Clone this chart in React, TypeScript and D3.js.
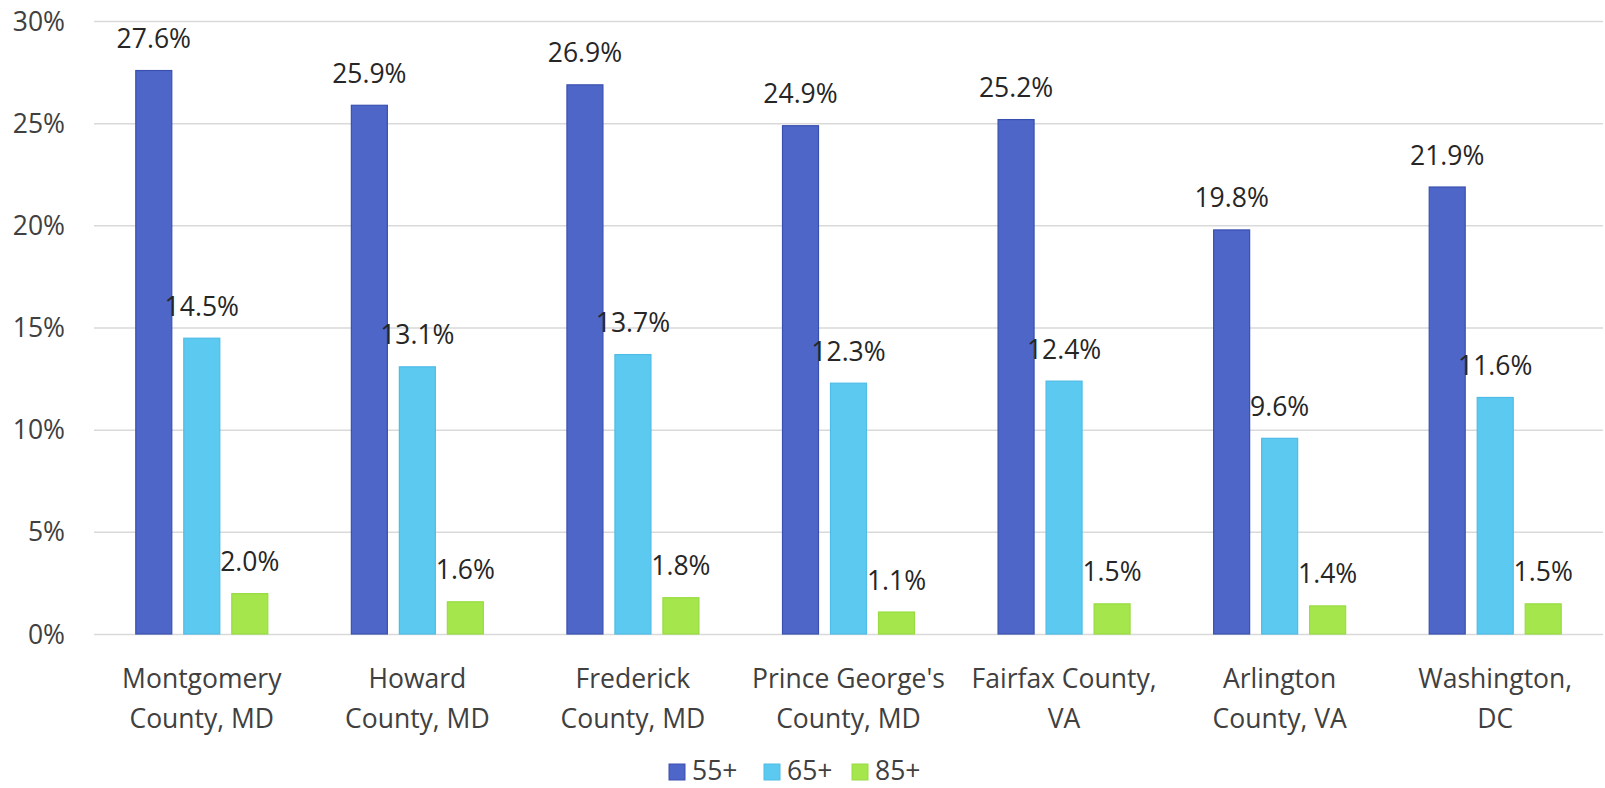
import React, { useEffect, useRef } from "react";
import * as d3 from "d3";

const categories = [
  ["Montgomery", "County, MD"],
  ["Howard", "County, MD"],
  ["Frederick", "County, MD"],
  ["Prince George's", "County, MD"],
  ["Fairfax County,", "VA"],
  ["Arlington", "County, VA"],
  ["Washington,", "DC"],
];
const seriesNames = ["55+", "65+", "85+"];
const age55 = [27.6, 25.9, 26.9, 24.9, 25.2, 19.8, 21.9];
const age65 = [14.5, 13.1, 13.7, 12.3, 12.4, 9.6, 11.6];
const age85 = [2.0, 1.6, 1.8, 1.1, 1.5, 1.4, 1.5];
const yTicks = [0, 5, 10, 15, 20, 25, 30];

const fills = ["#4e66c8", "#5bc9f0", "#a4e64c"];
const strokes = ["#3a50b0", "#4fbce6", "#98dc42"];

const W = 1605;
const H = 788;
const FONT = "'Open Sans', sans-serif";
const FS = "26.5px";

export default function App() {
  const ref = useRef<SVGSVGElement>(null);

  useEffect(() => {
    const svg = d3.select(ref.current);
    svg.selectAll("*").remove();

    const left = 94,
      right = 1603,
      top = 21,
      bottom = 634;

    const x = d3
      .scaleBand<number>()
      .domain(d3.range(categories.length))
      .range([left, right]);
    const y = d3.scaleLinear().domain([0, 30]).range([bottom, top]);

    const bw = 37,
      step = 48;

    // gridlines
    svg
      .append("g")
      .selectAll("line")
      .data(yTicks)
      .join("line")
      .attr("x1", left)
      .attr("x2", right)
      .attr("y1", (d) => y(d) + 0.5)
      .attr("y2", (d) => y(d) + 0.5)
      .attr("stroke", "#d9d9d9")
      .attr("stroke-width", 1.5);

    svg
      .append("g")
      .selectAll("text")
      .data(yTicks)
      .join("text")
      .attr("x", 65)
      .attr("y", (d) => y(d))
      .attr("dy", "0.36em")
      .attr("text-anchor", "end")
      .attr("fill", "#404040")
      .style("font-family", FONT)
      .style("font-size", FS)
      .text((d) => d + "%");

    const series = [age55, age65, age85];
    series.forEach((vals, si) => {
      const g = svg.append("g");
      const bx = (i: number) =>
        x(i)! + x.bandwidth() / 2 - 1.5 * bw - (step - bw) + si * step;
      g.selectAll("rect")
        .data(vals)
        .join("rect")
        .attr("x", (d, i) => bx(i) + 0.5)
        .attr("y", (d) => y(d) + 0.5)
        .attr("width", bw - 1)
        .attr("height", (d) => bottom - y(d) - 0.5)
        .attr("fill", fills[si])
        .attr("stroke", strokes[si])
        .attr("stroke-width", 1.2);
      g.selectAll("text")
        .data(vals)
        .join("text")
        .attr("x", (d, i) => bx(i) + bw / 2)
        .attr("y", (d) => y(d) - 22)
        .attr("text-anchor", "middle")
        .attr("fill", "#262626")
        .style("font-family", FONT)
        .style("font-size", FS)
        .text((d) => d.toFixed(1) + "%");
    });

    // category labels
    const cat = svg
      .append("g")
      .selectAll("text")
      .data(categories)
      .join("text")
      .attr("x", (d, i) => x(i)! + x.bandwidth() / 2)
      .attr("y", 688)
      .attr("text-anchor", "middle")
      .attr("fill", "#404040")
      .style("font-family", FONT)
      .style("font-size", FS);
    cat
      .selectAll("tspan")
      .data((d) => d)
      .join("tspan")
      .attr("x", function () {
        return (this.parentNode as SVGTextElement).getAttribute("x");
      })
      .attr("dy", (d, i) => (i === 0 ? 0 : 40))
      .text((d) => d);

    // legend
    const legendX = [669, 764, 852];
    const lg = svg
      .append("g")
      .selectAll("g")
      .data(seriesNames)
      .join("g")
      .attr("transform", (d, i) => `translate(${legendX[i]},764)`);
    lg.append("rect")
      .attr("width", 16)
      .attr("height", 16)
      .attr("fill", (d, i) => fills[i])
      .attr("stroke", (d, i) => strokes[i]);
    lg.append("text")
      .attr("x", 23)
      .attr("y", 16)
      .attr("fill", "#404040")
      .style("font-family", FONT)
      .style("font-size", FS)
      .text((d) => d);
  }, []);

  return (
    <svg
      ref={ref}
      width={W}
      height={H}
      style={{ position: "absolute", left: 0, top: 0, background: "#fff" }}
    />
  );
}
